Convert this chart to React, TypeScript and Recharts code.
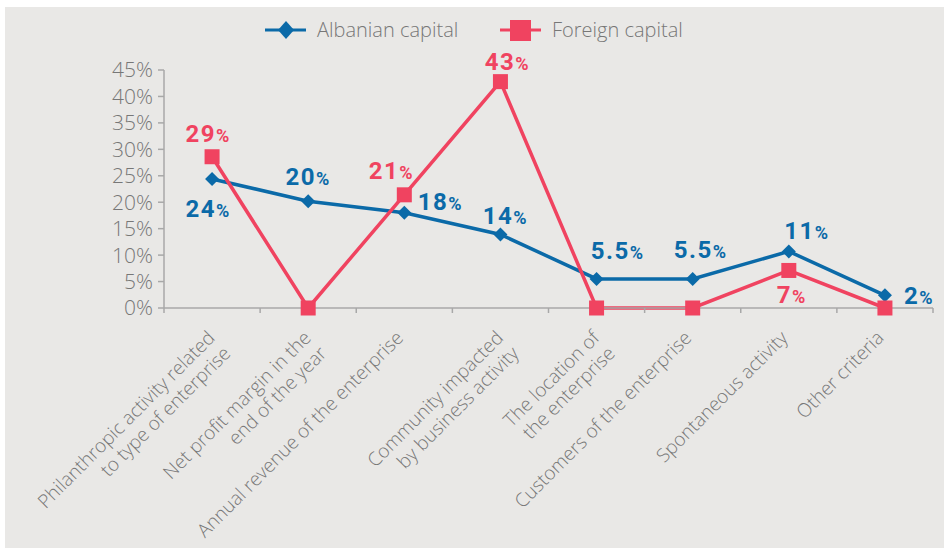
import React from "react";
import { LineChart, Line, XAxis, YAxis } from "recharts";

const categories = [
  "Philanthropic activity related\nto type of enterprise",
  "Net profit margin in the\nend of the year",
  "Annual revenue of the enterprise",
  "Community impacted\nby business activity",
  "The location of\nthe enterprise",
  "Customers of the enterprise",
  "Spontaneous activity",
  "Other criteria",
];
const albanian = [24.4, 20.2, 18, 13.9, 5.5, 5.5, 10.7, 2.4];
const foreign = [28.6, 0, 21.4, 42.8, 0, 0, 7.1, 0];
const albanianLabels = ["24", "20", "18", "14", "5.5", "5.5", "11", "2"];
const foreignLabels = ["29", "", "21", "43", "", "", "7", ""];
const yTicks = [0, 5, 10, 15, 20, 25, 30, 35, 40, 45];

// label offsets from the point (centre of text, baseline)
const albanianOffsets = [[-4, 38], [0, -16], [36, -3], [5, -10], [21, -20], [8, -21], [18, -12], [34, 9]];
const foreignOffsets = [[-4, -15], [0, 0], [-13, -16], [7, -12], [0, 0], [0, 0], [3, 33], [0, 0]];

const BLUE = "#0b6aa8";
const RED = "#f04360";
const GREY_TEXT = "#777777";
const AXIS = "#a8a8a8";
const BG = "#e9e8e6";

const W = 944;
const H = 548;
const PLOT_LEFT = 164;
const PLOT_RIGHT = 933;
const BAND = (PLOT_RIGHT - PLOT_LEFT) / categories.length;

const data = categories.map((name, i) => ({
  name,
  albanian: albanian[i],
  foreign: foreign[i],
}));

const CategoryTick = (props: any) => {
  const { x, y, payload, index } = props;
  const lines = String(payload.value).split("\n");
  const last = index === categories.length - 1;
  return (
    <g>
      <line x1={x - BAND / 2} x2={x - BAND / 2} y1={y} y2={y + 5} stroke={AXIS} strokeWidth={1.5} />
      {last && <line x1={x + BAND / 2} x2={x + BAND / 2} y1={y} y2={y + 5} stroke={AXIS} strokeWidth={1.5} />}
      <g transform={`translate(${x + (lines.length > 1 ? 4 : 0)},${y + 31})`}>
        <text
          transform="rotate(-45)"
          textAnchor="end"
          fill={GREY_TEXT}
          fontFamily="'Open Sans', sans-serif"
          fontWeight={300}
          fontSize={19}
        >
          {lines.map((l, i) => (
            <tspan key={i} x={0} dy={i === 0 ? 0 : 22}>
              {l}
            </tspan>
          ))}
        </text>
      </g>
    </g>
  );
};

const makeLabel = (texts: string[], offsets: number[][], color: string) => (props: any) => {
  const { x, y, index } = props;
  const t = texts[index];
  if (!t) return null;
  const [dx, dy] = offsets[index];
  return (
    <text
      key={`lbl-${index}`}
      x={x + dx}
      y={y + dy}
      textAnchor="middle"
      fill={color}
      fontFamily="Roboto, sans-serif"
      fontWeight={700}
      letterSpacing={1.5}
    >
      <tspan fontSize={24}>{t}</tspan>
      <tspan fontSize={18}>%</tspan>
    </text>
  );
};

const Diamond = (props: any) => {
  const { cx, cy, index } = props;
  const r = 7;
  return (
    <path
      key={`d-${index}`}
      d={`M${cx},${cy - r} L${cx + r},${cy} L${cx},${cy + r} L${cx - r},${cy} Z`}
      fill={BLUE}
    />
  );
};

const Square = (props: any) => {
  const { cx, cy, index } = props;
  const s = 15;
  return <rect key={`s-${index}`} x={cx - s / 2} y={cy - s / 2} width={s} height={s} fill={RED} />;
};

function LegendBar() {
  return (
    <svg width={W} height={60} style={{ position: "absolute", left: 0, top: 0 }}>
      <line x1={265} x2={306} y1={30} y2={30} stroke={BLUE} strokeWidth={3} />
      <path d="M286,21 L294,30 L286,39 L278,30 Z" fill={BLUE} />
      <text x={317} y={37} fill={GREY_TEXT} fontFamily="'Open Sans', sans-serif" fontWeight={300} fontSize={20}>
        Albanian capital
      </text>
      <line x1={500} x2={541} y1={30} y2={30} stroke={RED} strokeWidth={3} />
      <rect x={510} y={20} width={21} height={21} fill={RED} />
      <text x={552} y={37} fill={GREY_TEXT} fontFamily="'Open Sans', sans-serif" fontWeight={300} fontSize={20}>
        Foreign capital
      </text>
    </svg>
  );
}

export default function App() {
  return (
    <div style={{ position: "absolute", left: 0, top: 0, width: W, height: H, background: "#ffffff" }}>
      <div style={{ position: "absolute", left: 5, top: 7, right: 0, bottom: 0, background: BG }} />
      <div style={{ position: "absolute", left: 0, top: 0 }}>
        <LineChart width={W} height={H} data={data} margin={{ top: 70, right: W - PLOT_RIGHT, left: 100, bottom: 10 }}>
          <XAxis
            dataKey="name"
            scale="band"
            interval={0}
            height={230}
            tickLine={false}
            tickSize={0}
            tickMargin={0}
            axisLine={{ stroke: AXIS, strokeWidth: 1.5 }}
            tick={<CategoryTick />}
          />
          <YAxis
            width={64}
            domain={[0, 45]}
            ticks={yTicks}
            interval={0}
            tickFormatter={(v) => `${v}%`}
            axisLine={{ stroke: AXIS, strokeWidth: 1.5 }}
            tickLine={{ stroke: AXIS, strokeWidth: 1.5 }}
            tickSize={6}
            tickMargin={5}
            tick={{ fill: GREY_TEXT, fontSize: 21, fontFamily: "'Open Sans', sans-serif", fontWeight: 300 }}
          />
          <Line
            dataKey="albanian"
            stroke={BLUE}
            strokeWidth={3.5}
            dot={Diamond}
            activeDot={false}
            isAnimationActive={false}
            label={makeLabel(albanianLabels, albanianOffsets, BLUE)}
          />
          <Line
            dataKey="foreign"
            stroke={RED}
            strokeWidth={3.5}
            dot={Square}
            activeDot={false}
            isAnimationActive={false}
            label={makeLabel(foreignLabels, foreignOffsets, RED)}
          />
        </LineChart>
      </div>
      <LegendBar />
    </div>
  );
}
